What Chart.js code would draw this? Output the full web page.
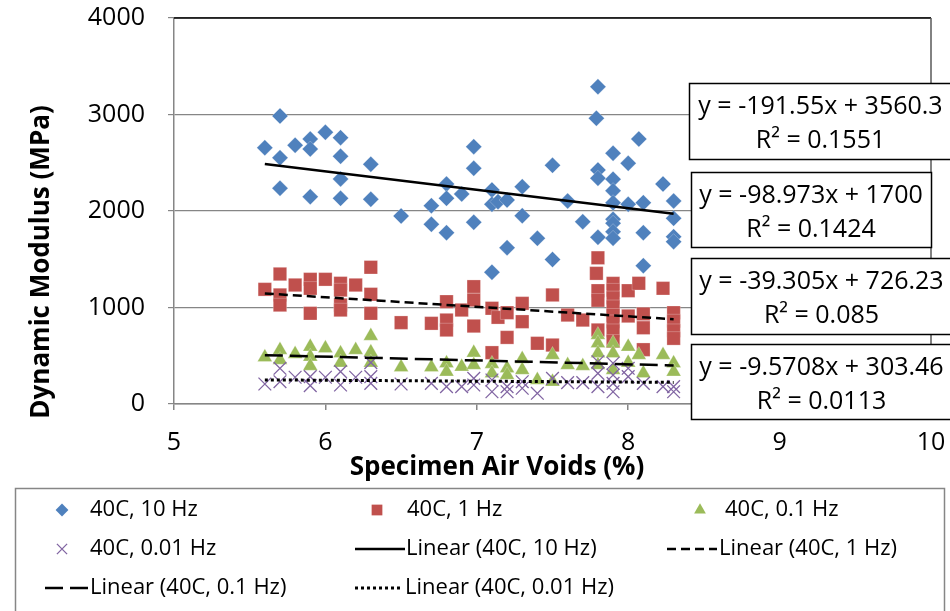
<!DOCTYPE html>
<html>
<head>
<meta charset="utf-8">
<script src="https://cdn.jsdelivr.net/npm/chart.js@4.4.1/dist/chart.umd.min.js"></script>
<style>
  html, body { margin: 0; padding: 0; background: #fff; }
  canvas { display: block; }
</style>
</head>
<body>
<canvas id="chart" width="950" height="611"></canvas>
<script>
// axis ticks
const xTicks = [5, 6, 7, 8, 9, 10];
const yTicks = [0, 1000, 2000, 3000, 4000];

const seriesNames = ["40C, 10 Hz", "40C, 1 Hz", "40C, 0.1 Hz", "40C, 0.01 Hz"];

// 40C, 10 Hz
const x10 = [5.6, 5.7, 5.7, 5.7, 5.8, 5.9, 5.9, 5.9, 6.0, 6.1, 6.1, 6.1, 6.1, 6.3, 6.3, 6.5, 6.7, 6.7, 6.8, 6.8, 6.8, 6.9, 6.98, 6.98, 6.98, 7.1, 7.1, 7.1, 7.14, 7.2, 7.2, 7.3, 7.3, 7.4, 7.5, 7.5, 7.6, 7.7, 7.8, 7.79, 7.8, 7.8, 7.8, 7.9, 7.9, 7.9, 7.9, 7.9, 7.9, 7.9, 7.9, 8.0, 8.0, 8.07, 8.1, 8.1, 8.1, 8.23, 8.3, 8.3, 8.3, 8.3];
const y10 = [2656, 2984, 2552, 2235, 2681, 2746, 2642, 2148, 2816, 2760, 2567, 2332, 2131, 2484, 2121, 1948, 2055, 1862, 2280, 2131, 1775, 2176, 2667, 2442, 1883, 2218, 2069, 1365, 2097, 2114, 1620, 2252, 1951, 1717, 2473, 1497, 2104, 1889, 3288, 2961, 2425, 2339, 1727, 2598, 2329, 2211, 2086, 1914, 1873, 1786, 1717, 2494, 2069, 2746, 2086, 1775, 1433, 2280, 2104, 1924, 1734, 1682];

// 40C, 1 Hz
const x1 = [5.6, 5.7, 5.7, 5.7, 5.8, 5.9, 5.9, 5.9, 6.0, 6.1, 6.1, 6.1, 6.1, 6.2, 6.3, 6.3, 6.3, 6.5, 6.7, 6.8, 6.8, 6.8, 6.9, 6.98, 6.98, 6.98, 7.1, 7.1, 7.14, 7.2, 7.2, 7.3, 7.3, 7.4, 7.5, 7.5, 7.6, 7.7, 7.8, 7.79, 7.8, 7.8, 7.8, 7.9, 7.9, 7.9, 7.9, 7.9, 7.9, 7.9, 7.9, 8.0, 8.0, 8.07, 8.1, 8.1, 8.1, 8.23, 8.3, 8.3, 8.3, 8.3];
const y1 = [1188, 1347, 1130, 1026, 1233, 1292, 1199, 940, 1292, 1251, 1181, 1026, 974, 1233, 1417, 1137, 940, 843, 836, 1060, 870, 767, 974, 1216, 1078, 808, 992, 532, 898, 946, 690, 1043, 853, 629, 1130, 611, 922, 870, 1515, 1354, 1174, 1075, 767, 1250, 1180, 1100, 1008, 920, 853, 760, 650, 1174, 912, 1251, 933, 790, 563, 1199, 946, 860, 760, 680];

// 40C, 0.1 Hz
const x01 = [5.6, 5.7, 5.7, 5.8, 5.9, 5.9, 5.9, 6.0, 6.1, 6.1, 6.2, 6.3, 6.3, 6.3, 6.5, 6.7, 6.8, 6.8, 6.9, 6.98, 6.98, 7.1, 7.1, 7.2, 7.2, 7.3, 7.3, 7.4, 7.5, 7.5, 7.6, 7.7, 7.8, 7.8, 7.8, 7.8, 7.9, 7.9, 7.9, 8.0, 8.0, 8.07, 8.1, 8.23, 8.3, 8.3];
const y01 = [484, 560, 456, 518, 594, 490, 394, 577, 525, 428, 560, 705, 536, 428, 380, 380, 422, 335, 387, 532, 404, 415, 318, 370, 300, 466, 352, 249, 508, 231, 404, 394, 715, 629, 525, 404, 629, 525, 352, 594, 428, 508, 318, 508, 422, 335];

// 40C, 0.01 Hz
const x001 = [5.6, 5.7, 5.7, 5.8, 5.9, 5.9, 6.0, 6.1, 6.1, 6.2, 6.3, 6.3, 6.3, 6.5, 6.7, 6.8, 6.9, 6.98, 6.98, 7.1, 7.1, 7.2, 7.2, 7.3, 7.3, 7.4, 7.5, 7.6, 7.7, 7.8, 7.8, 7.8, 7.9, 7.9, 7.9, 7.9, 8.0, 8.0, 8.1, 8.23, 8.3, 8.3];
const y001 = [207, 370, 231, 277, 283, 190, 277, 335, 197, 277, 428, 283, 214, 207, 214, 180, 180, 266, 197, 249, 127, 180, 127, 231, 163, 111, 266, 221, 221, 438, 318, 180, 422, 300, 214, 127, 370, 283, 214, 180, 180, 127];

// linear trendlines as printed on the chart
const slopes = [-191.55, -98.973, -39.305, -9.5708];
const intercepts = [3560.3, 1700, 726.23, 303.46];
const rSquared = ["0.1551", "0.1424", "0.085", "0.0113"];

const xs = [x10, x1, x01, x001];
const ys = [y10, y1, y01, y001];
const colors = ["#4F81BD", "#C0504D", "#9BBB59", "#8064A2"];
const markerStyles = [
  { pointStyle: "rectRot", radius: 8 },
  { pointStyle: "rect", radius: 9.5 },
  { pointStyle: "triangle", radius: 8.5 },
  { pointStyle: "crossRot", radius: 9 }
];
const trendDash = [[], [9, 5], [18, 7], [3, 3]];

const FONT = "'Open Sans', sans-serif";
Chart.defaults.font.family = FONT;
Chart.defaults.color = "#000";

const datasets = [];
seriesNames.forEach((name, i) => {
  const st = markerStyles[i];
  datasets.push({
    type: "scatter",
    label: name,
    data: xs[i].map((x, k) => ({ x: x, y: ys[i][k] })),
    pointStyle: st.pointStyle,
    pointRadius: st.radius,
    pointHoverRadius: st.radius,
    backgroundColor: colors[i],
    borderColor: st.pointStyle === "crossRot" ? colors[i] : "rgba(255,255,255,0.25)",
    borderWidth: st.pointStyle === "crossRot" ? 1.3 : 1,
    order: 4 - i + 1
  });
});
seriesNames.forEach((name, i) => {
  const lo = Math.min(...xs[i]);
  const hi = Math.max(...xs[i]);
  datasets.push({
    type: "line",
    label: "Linear (" + name + ")",
    data: [lo, hi].map((x) => ({ x: x, y: slopes[i] * x + intercepts[i] })),
    borderColor: "#000",
    borderWidth: i === 3 ? 3 : 2.5,
    borderDash: trendDash[i],
    pointRadius: 0,
    fill: false,
    order: 0
  });
});

// equation boxes, legend, axis titles, plot border
const extras = {
  id: "extras",
  afterDraw(chart) {
    const ctx = chart.ctx;
    const a = chart.chartArea;
    ctx.save();

    // plot area border (top and right)
    ctx.lineWidth = 1.5;
    ctx.strokeStyle = "#000";
    ctx.beginPath();
    ctx.moveTo(a.left, a.top);
    ctx.lineTo(a.right, a.top);
    ctx.stroke();
    ctx.strokeStyle = "#595959";
    ctx.beginPath();
    ctx.moveTo(a.right, a.top);
    ctx.lineTo(a.right, a.bottom);
    ctx.stroke();

    // axis titles
    ctx.fillStyle = "#000";
    ctx.font = "bold 26px " + FONT;
    ctx.textAlign = "center";
    ctx.textBaseline = "middle";
    ctx.fillText("Specimen Air Voids (%)", 497, 468);
    ctx.save();
    ctx.translate(42, 262);
    ctx.rotate(-Math.PI / 2);
    ctx.fillText("Dynamic Modulus (MPa)", 0, 0);
    ctx.restore();

    // trendline equation boxes
    const boxes = [
      { x: 689, y: 83, w: 263, h: 76 },
      { x: 691, y: 172, w: 240, h: 75 },
      { x: 691, y: 258, w: 261, h: 76 },
      { x: 691, y: 344, w: 261, h: 75 }
    ];
    ctx.font = "25px " + FONT;
    boxes.forEach((b, i) => {
      ctx.fillStyle = "#fff";
      ctx.fillRect(b.x, b.y, b.w, b.h);
      ctx.strokeStyle = "#000";
      ctx.lineWidth = 1.5;
      ctx.strokeRect(b.x + 0.5, b.y + 0.5, b.w, b.h);
      ctx.fillStyle = "#000";
      const cx = b.x + b.w / 2;
      ctx.fillText("y = " + slopes[i] + "x + " + intercepts[i], cx, b.y + 24);
      ctx.fillText("R\u00B2 = " + rSquared[i], cx, b.y + 58);
    });

    // legend
    ctx.strokeStyle = "#868686";
    ctx.lineWidth = 1.5;
    ctx.strokeRect(15.5, 488.5, 929, 140);
    const slots = [
      { x: 62, y: 510, tx: 90 }, { x: 377, y: 510, tx: 407 }, { x: 700, y: 510, tx: 725 },
      { x: 62, y: 549, tx: 90 }, { x: 355, x2: 405, y: 549, tx: 406 }, { x: 667, x2: 717, y: 549, tx: 719 },
      { x: 45, x2: 88, y: 588, tx: 90 }, { x: 355, x2: 403, y: 588, tx: 405 }
    ];
    ctx.font = "22px " + FONT;
    ctx.textAlign = "left";
    chart.data.datasets.forEach((ds, i) => {
      const s = slots[i];
      if (ds.type === "scatter") {
        ctx.fillStyle = ds.backgroundColor;
        ctx.strokeStyle = ds.pointStyle === "crossRot" ? ds.backgroundColor : "rgba(0,0,0,0)";
        ctx.lineWidth = 1.3;
        Chart.helpers.drawPoint(ctx, { pointStyle: ds.pointStyle, radius: ds.pointRadius * 0.8, rotation: 0, borderWidth: 1 }, s.x, s.y);
      } else {
        ctx.strokeStyle = "#000";
        ctx.lineWidth = ds.borderWidth;
        ctx.setLineDash(ds.borderDash);
        ctx.beginPath();
        ctx.moveTo(s.x, s.y);
        ctx.lineTo(s.x2, s.y);
        ctx.stroke();
        ctx.setLineDash([]);
      }
      ctx.fillStyle = "#000";
      ctx.fillText(ds.label, s.tx, s.y);
    });
    ctx.restore();
  }
};

new Chart(document.getElementById("chart"), {
  data: { datasets: datasets },
  options: {
    responsive: false,
    animation: false,
    layout: { padding: { top: 18, right: 19, bottom: 123, left: 0 } },
    plugins: { legend: { display: false }, tooltip: { enabled: false } },
    scales: {
      x: {
        type: "linear",
        min: xTicks[0],
        max: xTicks[xTicks.length - 1],
        afterFit: (s) => { s.height = 84; s.paddingLeft = 0; s.paddingRight = 0; },
        afterBuildTicks: (s) => { s.ticks = xTicks.map((v) => ({ value: v })); },
        ticks: { font: { size: 25 }, padding: 18, color: "#000", callback: (v) => String(v) },
        grid: { drawOnChartArea: false, drawTicks: true, tickLength: 6, color: "#868686", lineWidth: 1.5 },
        border: { color: "#868686", width: 1.5 }
      },
      y: {
        type: "linear",
        min: yTicks[0],
        max: yTicks[yTicks.length - 1],
        afterFit: (s) => { s.width = 174; s.paddingTop = 0; s.paddingBottom = 0; },
        afterBuildTicks: (s) => { s.ticks = yTicks.map((v) => ({ value: v })); },
        ticks: { font: { size: 25 }, padding: 23, color: "#000", callback: (v) => String(v) },
        grid: { drawTicks: true, tickLength: 6, color: "#868686", lineWidth: 1.2 },
        border: { color: "#868686", width: 1.5 }
      }
    }
  },
  plugins: [extras]
});
</script>
</body>
</html>
